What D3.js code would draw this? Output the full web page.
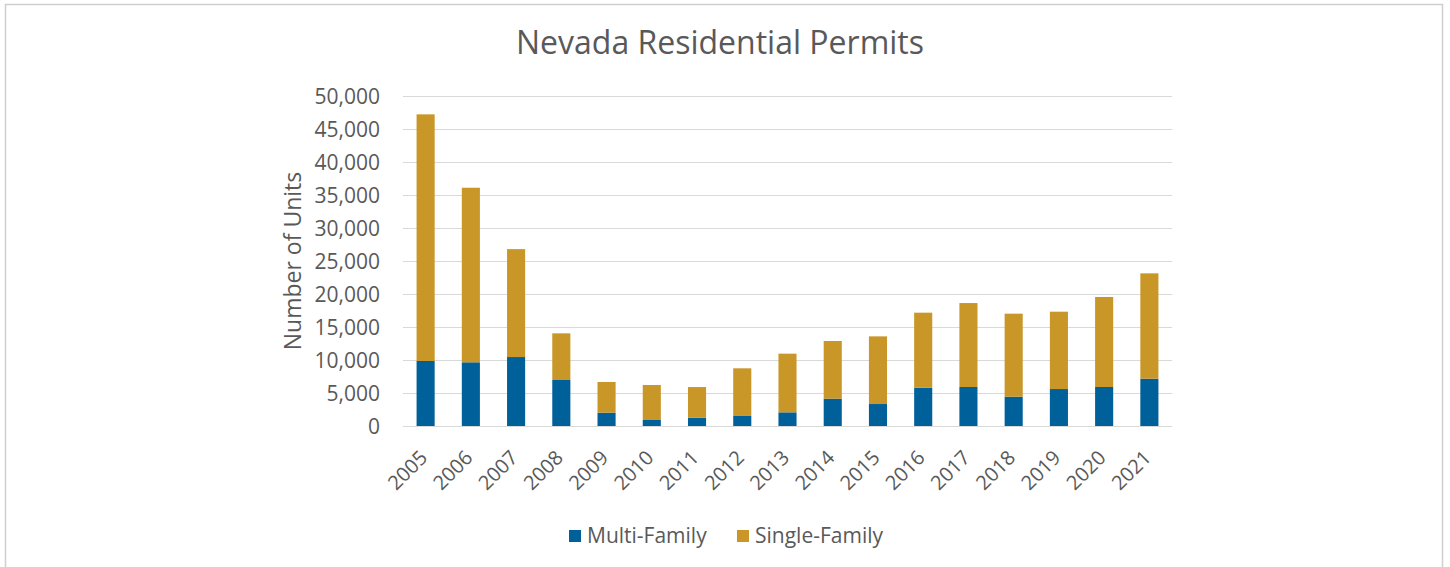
<!DOCTYPE html>
<html>
<head>
<meta charset="utf-8">
<script src="https://cdn.jsdelivr.net/npm/d3@7"></script>
<style>
  html, body { margin: 0; padding: 0; background: #fff; }
  svg { display: block; }
  svg text { font-family: "Open Sans", "Noto Sans", sans-serif; }
</style>
</head>
<body>
<svg id="chart" width="1450" height="567"></svg>
<script>
// data
const years = ['2005', '2006', '2007', '2008', '2009', '2010', '2011', '2012', '2013',
  '2014', '2015', '2016', '2017', '2018', '2019', '2020', '2021'];
const multiFamily = [9850, 9650, 10450, 6970, 2020, 910, 1260, 1520, 2070,
  4140, 3330, 5810, 5910, 4440, 5600, 5910, 7170];
const singleFamily = [37370, 26450, 16350, 7070, 4650, 5300, 4640, 7220, 8890,
  8740, 10250, 11360, 12720, 12580, 11720, 13640, 15960];
const seriesNames = ['Multi-Family', 'Single-Family'];
const seriesColors = ['#00609a', '#c99628'];
const yTicks = [0, 5000, 10000, 15000, 20000, 25000, 30000, 35000, 40000, 45000, 50000];

const width = 1450, height = 567;
const margin = { left: 403, right: 278, top: 96, bottom: 141 };
const textColor = '#595959';

const svg = d3.select('#chart');

// outer frame
svg.append('rect')
  .attr('x', 5.5)
  .attr('y', 4.5)
  .attr('width', 1437)
  .attr('height', 580)
  .attr('fill', '#fff')
  .attr('stroke', '#cfcfcf')
  .attr('stroke-width', 1.5);

const x = d3.scaleBand()
  .domain(years)
  .range([margin.left, width - margin.right])
  .paddingInner(0.6)
  .paddingOuter(0.3);

const y = d3.scaleLinear()
  .domain([0, 50000])
  .range([height - margin.bottom, margin.top]);

// gridlines
svg.append('g')
  .attr('class', 'grid')
  .selectAll('line')
  .data(yTicks)
  .enter()
  .append('line')
  .attr('x1', margin.left)
  .attr('x2', width - margin.right)
  .attr('y1', d => Math.round(y(d)) + 0.5)
  .attr('y2', d => Math.round(y(d)) + 0.5)
  .style('stroke', '#d9d9d9')
  .style('stroke-width', 1.2);

// y axis labels
const yAxis = svg.append('g')
  .attr('transform', `translate(${margin.left - 23},0)`)
  .call(d3.axisLeft(y).tickValues(yTicks).tickSize(0).tickPadding(0).tickFormat(d3.format(',')));
yAxis.attr('font-family', null);
yAxis.select('.domain').remove();
yAxis.selectAll('text')
  .attr('fill', textColor)
  .style('font-size', '21px')
  .attr('dy', '0.36em');

// stacked bars
const rows = years.map((yr, i) => ({ year: yr, 'Multi-Family': multiFamily[i], 'Single-Family': singleFamily[i] }));
const stacked = d3.stack().keys(seriesNames)(rows);

svg.append('g')
  .selectAll('g')
  .data(stacked)
  .enter()
  .append('g')
  .attr('fill', (d, i) => seriesColors[i])
  .selectAll('rect')
  .data(d => d)
  .enter()
  .append('rect')
  .attr('x', d => x(d.data.year))
  .attr('width', x.bandwidth())
  .attr('y', d => y(d[1]))
  .attr('height', d => y(d[0]) - y(d[1]));

// x axis labels
const xAxis = svg.append('g')
  .attr('transform', `translate(0,${height - margin.bottom})`)
  .call(d3.axisBottom(x).tickSize(0).tickPadding(0));
xAxis.attr('font-family', null);
xAxis.select('.domain').remove();
xAxis.selectAll('text')
  .attr('fill', textColor)
  .style('font-size', '20px')
  .attr('text-anchor', 'end')
  .attr('dy', 0)
  .attr('transform', 'translate(3,33) rotate(-45)');

// axis title
svg.append('text')
  .attr('transform', 'translate(301,261) rotate(-90)')
  .attr('text-anchor', 'middle')
  .attr('fill', textColor)
  .style('font-size', '23px')
  .text('Number of Units');

// chart title
svg.append('text')
  .attr('x', 720)
  .attr('y', 54)
  .attr('text-anchor', 'middle')
  .attr('fill', textColor)
  .style('font-size', '32px')
  .text('Nevada Residential Permits');

// legend
const legend = svg.append('g')
  .attr('transform', 'translate(569,536)');
const items = legend.selectAll('g')
  .data(seriesNames)
  .enter()
  .append('g')
  .attr('transform', (d, i) => `translate(${i * 168},0)`);
items.append('rect')
  .attr('x', 0)
  .attr('y', -6)
  .attr('width', 12)
  .attr('height', 12)
  .attr('fill', (d, i) => seriesColors[i]);
items.append('text')
  .attr('x', 18)
  .attr('y', 0)
  .attr('dy', '0.33em')
  .attr('fill', textColor)
  .style('font-size', '21px')
  .text(d => d);
</script>
</body>
</html>
